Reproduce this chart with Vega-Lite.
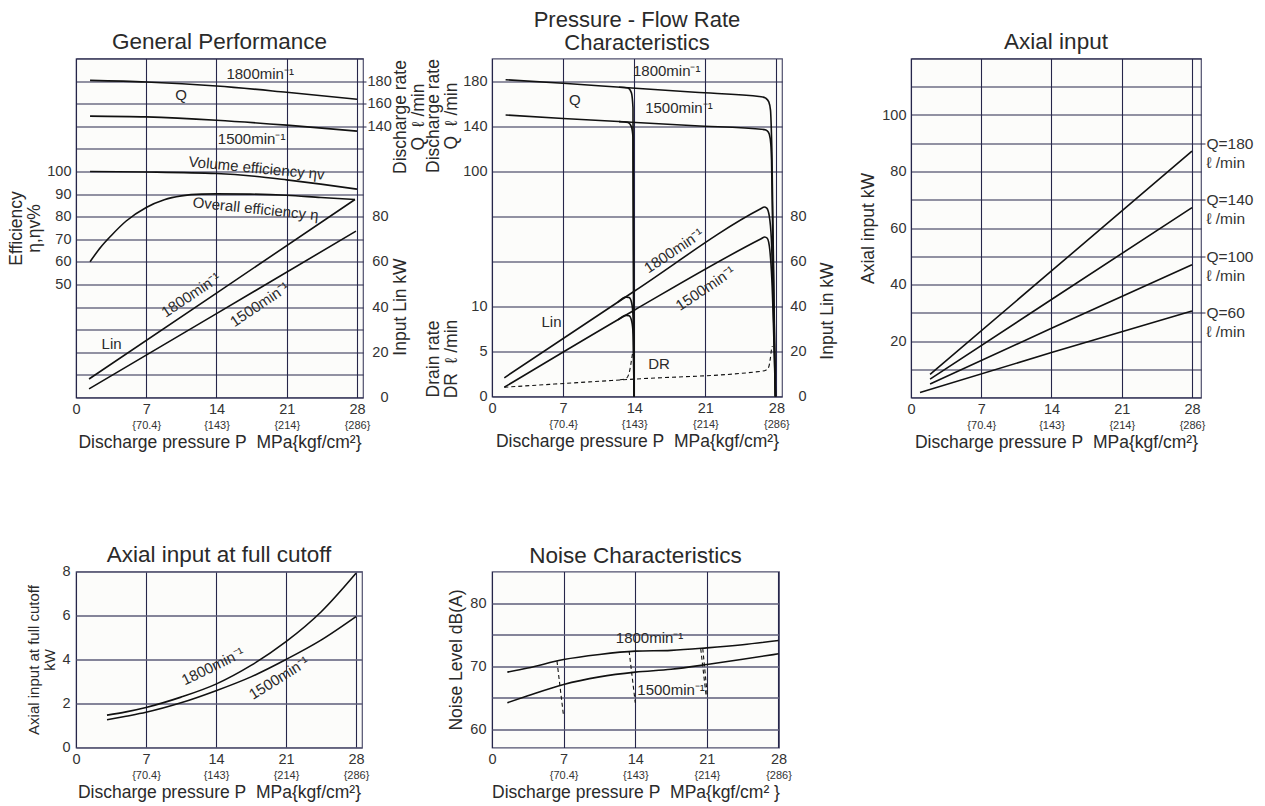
{
  "$schema": "https://vega.github.io/schema/vega-lite/v6.json",
  "background": "white",
  "padding": {"left": 7, "top": 8.5, "right": 5, "bottom": 5},
  "columns": 3,
  "spacing": {"row": 174, "column": 129},
  "bounds": "flush",
  "config": {
    "font": "Liberation Sans",
    "view": {"stroke": "#50506e", "strokeWidth": 1.2, "fill": "#fcfcfa"},
    "title": {"fontSize": 22.5, "fontWeight": "normal", "color": "#2a2a2a", "frame": "group", "offset": 6, "dy": 8.5, "lineHeight": 22},
    "axis": {"labelFontSize": 14.5, "labelColor": "#333333", "titleFontSize": 17.5, "titleFontWeight": "normal", "titleColor": "#2a2a2a", "domain": false, "ticks": false, "grid": false, "gridColor": "#26264a", "gridWidth": 1.1, "gridOpacity": 1, "tickColor": "#26264a", "labelPadding": 5, "titlePadding": 3, "titleLineHeight": 18, "labelFlush": false, "labelOverlap": false, "labelBound": false},
    "line": {"color": "#111111", "strokeWidth": 1.6},
    "text": {"fontSize": 15, "color": "#2a2a2a"}
  },
  "concat": [
    {
      "title": {"text": "General Performance"},
      "width": 287, "height": 339,
      "resolve": {"scale": {"x": "independent", "y": "independent"}},
      "layer": [
        {
          "data": {"values": [
            {"s":"vol","p":1.4,"v":100},{"s":"vol","p":7,"v":99.8},{"s":"vol","p":14,"v":99.1},{"s":"vol","p":17.8,"v":97.9},{"s":"vol","p":21,"v":96.3},{"s":"vol","p":24.4,"v":94.4},{"s":"vol","p":28,"v":92.2},
            {"s":"ovr","p":1.4,"v":60.1},{"s":"ovr","p":2.5,"v":66.7},{"s":"ovr","p":3.5,"v":71.6},{"s":"ovr","p":5,"v":78.1},{"s":"ovr","p":7,"v":84.1},{"s":"ovr","p":8.8,"v":87.5},{"s":"ovr","p":10.5,"v":89.2},{"s":"ovr","p":12.5,"v":90},{"s":"ovr","p":14,"v":90.1},{"s":"ovr","p":17.4,"v":90},{"s":"ovr","p":21,"v":89.5},{"s":"ovr","p":24.4,"v":88.5},{"s":"ovr","p":27.8,"v":87.6}
          ]},
          "encoding": {
            "x": {"field": "p", "type": "quantitative", "scale": {"domain": [0, 28.6], "nice": false}, "axis": {"orient": "bottom", "values": [0, 7, 14, 21, 28], "grid": true, "title": null, "labelPadding": 5}},
            "y": {"field": "v", "type": "quantitative", "scale": {"domain": [0, 150], "nice": false}, "axis": {"orient": "left", "values": [0,10,20,30,40,50,60,70,80,90,100,110,120,130,140,150], "labelExpr": "datum.value >= 50 && datum.value <= 100 ? datum.label : ''", "grid": true, "title": ["Efficiency", "η,ηv%"], "titlePadding": 3}}
          },
          "layer": [
            {"mark": {"type": "line", "interpolate": "monotone"}, "encoding": {"detail": {"field": "s"}}},
            {"data": {"values": [{"t": "Volume efficiency ηv", "p": 18, "v": 101.5}]}, "mark": {"type": "text", "angle": 5.5}, "encoding": {"text": {"field": "t"}}},
            {"data": {"values": [{"t": "Overall efficiency η", "p": 17.9, "v": 83.5}]}, "mark": {"type": "text", "angle": 6}, "encoding": {"text": {"field": "t"}}}
          ]
        },
        {
          "data": {"values": [
            {"s":"q1800","p":1.4,"v":180.6},{"s":"q1800","p":7,"v":179.2},{"s":"q1800","p":14,"v":175.7},{"s":"q1800","p":21,"v":170.1},{"s":"q1800","p":28,"v":163.9},
            {"s":"q1500","p":1.4,"v":149},{"s":"q1500","p":7,"v":148.3},{"s":"q1500","p":14,"v":145.4},{"s":"q1500","p":21,"v":141},{"s":"q1500","p":28,"v":135.7}
          ]},
          "encoding": {
            "x": {"field": "p", "type": "quantitative", "scale": {"domain": [0, 28.6], "nice": false}, "axis": null},
            "y": {"field": "v", "type": "quantitative", "scale": {"domain": [-100, 200], "nice": false}, "axis": {"orient": "right", "values": [140, 160, 180], "ticks": true, "tickSize": 3, "labelPadding": 1, "title": ["Discharge rate", "Q\u00a0 ℓ /min"], "titleAngle": 270, "titleBaseline": "top", "titleX": 28, "titleY": 58}}
          },
          "layer": [
            {"mark": {"type": "line", "interpolate": "monotone"}, "encoding": {"detail": {"field": "s"}}},
            {"data": {"values": [{"t": "1800min⁻¹", "p": 18.35, "v": 185.9}, {"t": "Q", "p": 10.46, "v": 167.6}, {"t": "1500min⁻¹", "p": 17.5, "v": 128.6}]}, "mark": {"type": "text"}, "encoding": {"text": {"field": "t"}}}
          ]
        },
        {
          "data": {"values": [
            {"s":"l1800","p":1.3,"v":8.2},{"s":"l1800","p":14,"v":46.2},{"s":"l1800","p":27.8,"v":87.6},
            {"s":"l1500","p":1.3,"v":3.8},{"s":"l1500","p":14,"v":37.1},{"s":"l1500","p":27.9,"v":73.6}
          ]},
          "encoding": {
            "x": {"field": "p", "type": "quantitative", "scale": {"domain": [0, 28.6], "nice": false}, "axis": {"orient": "bottom", "values": [7, 14, 21, 28], "labelExpr": "datum.value == 7 ? '{70.4}' : datum.value == 14 ? '{143}' : datum.value == 21 ? '{214}' : '{286}'", "labelFontSize": 11, "labelPadding": 22, "title": "Discharge pressure P\u00a0 MPa{kgf/cm²}", "titlePadding": 3, "grid": false}},
            "y": {"field": "v", "type": "quantitative", "scale": {"domain": [0, 150], "nice": false}, "axis": {"orient": "right", "values": [0, 20, 40, 60, 80], "labelAlign": "right", "labelPadding": 25, "title": "Input Lin kW", "titleAngle": 270, "titleBaseline": "top", "titleY": 248, "titlePadding": 3}}
          },
          "layer": [
            {"mark": {"type": "line"}, "encoding": {"detail": {"field": "s"}}},
            {"data": {"values": [{"t": "1800min⁻¹", "p": 11.45, "v": 45.4}, {"t": "1500min⁻¹", "p": 18.3, "v": 41.2}]}, "mark": {"type": "text", "angle": -34}, "encoding": {"text": {"field": "t"}}},
            {"data": {"values": [{"t": "Lin", "p": 3.55, "v": 23.6}]}, "mark": {"type": "text"}, "encoding": {"text": {"field": "t"}}}
          ]
        }
      ]
    },
    {
      "title": {"text": ["Pressure - Flow Rate", "Characteristics"], "fontSize": 22, "lineHeight": 22.5, "dy": 2.2},
      "width": 290, "height": 338,
      "resolve": {"scale": {"x": "independent", "y": "independent"}},
      "layer": [
        {
          "data": {"values": [
            {"s":"l1800","p":1.21,"v":8.3},{"s":"l1800","p":14,"v":46.7},{"s":"l1800","p":26.5,"v":83.4},{"s":"l1800","p":26.8,"v":84.1},{"s":"l1800","p":27.05,"v":83.6},{"s":"l1800","p":27.3,"v":80},{"s":"l1800","p":27.5,"v":70},{"s":"l1800","p":27.9,"v":0},
            {"s":"l1800c","p":12.4,"v":41.9},{"s":"l1800c","p":13.2,"v":44.1},{"s":"l1800c","p":13.5,"v":43.9},{"s":"l1800c","p":13.75,"v":41.5},{"s":"l1800c","p":13.9,"v":35},{"s":"l1800c","p":13.98,"v":0},
            {"s":"l1500","p":1.21,"v":4.1},{"s":"l1500","p":14,"v":38.3},{"s":"l1500","p":26.5,"v":70},{"s":"l1500","p":26.85,"v":70.8},{"s":"l1500","p":27.1,"v":70.2},{"s":"l1500","p":27.35,"v":65},{"s":"l1500","p":27.55,"v":52},{"s":"l1500","p":27.9,"v":0},
            {"s":"l1500c","p":12.4,"v":34},{"s":"l1500c","p":13.2,"v":36},{"s":"l1500c","p":13.5,"v":35.8},{"s":"l1500c","p":13.75,"v":33.5},{"s":"l1500c","p":13.9,"v":27.5},{"s":"l1500c","p":13.98,"v":0}
          ]},
          "encoding": {
            "x": {"field": "p", "type": "quantitative", "scale": {"domain": [0, 28.55], "nice": false}, "axis": {"orient": "bottom", "values": [0, 7, 14, 21, 28], "grid": true, "title": null, "labelPadding": 5}},
            "y": {"field": "v", "type": "quantitative", "scale": {"domain": [0, 150], "nice": false}, "axis": {"orient": "right", "values": [0, 20, 40, 60, 80, 100, 120, 140], "labelExpr": "datum.value <= 80 ? datum.label : ''", "grid": true, "labelAlign": "right", "labelPadding": 24, "title": "Input Lin kW", "titleAngle": 270, "titleBaseline": "top", "titleY": 252, "titlePadding": 12}}
          },
          "layer": [
            {"mark": {"type": "line", "interpolate": "monotone"}, "encoding": {"detail": {"field": "s"}}},
            {"data": {"values": [{"t": "1800min⁻¹", "p": 17.9, "v": 64.7}, {"t": "1500min⁻¹", "p": 21, "v": 48}]}, "mark": {"type": "text", "angle": -34}, "encoding": {"text": {"field": "t"}}},
            {"data": {"values": [{"t": "Lin", "p": 5.86, "v": 32.9}]}, "mark": {"type": "text"}, "encoding": {"text": {"field": "t"}}}
          ]
        },
        {
          "data": {"values": [
            {"s":"q1800","p":1.34,"v":181.2},{"s":"q1800","p":7,"v":178},{"s":"q1800","p":13.4,"v":174},{"s":"q1800","p":20,"v":170},{"s":"q1800","p":26.5,"v":166.1},{"s":"q1800","p":26.95,"v":164.8},{"s":"q1800","p":27.25,"v":161.5},{"s":"q1800","p":27.42,"v":154},{"s":"q1800","p":27.55,"v":120},{"s":"q1800","p":27.9,"v":-100},
            {"s":"q1800c","p":12.5,"v":174.5},{"s":"q1800c","p":13.39,"v":173.8},{"s":"q1800c","p":13.72,"v":169.7},{"s":"q1800c","p":13.88,"v":156.4},{"s":"q1800c","p":13.98,"v":-100},
            {"s":"q1500","p":1.34,"v":149.9},{"s":"q1500","p":7,"v":146.8},{"s":"q1500","p":13.4,"v":143.6},{"s":"q1500","p":20,"v":140.3},{"s":"q1500","p":26.8,"v":136.9},{"s":"q1500","p":27.1,"v":135.8},{"s":"q1500","p":27.3,"v":132.7},{"s":"q1500","p":27.45,"v":124},{"s":"q1500","p":27.52,"v":110},{"s":"q1500","p":27.9,"v":-100},
            {"s":"q1500c","p":12.5,"v":144},{"s":"q1500c","p":13.39,"v":143.2},{"s":"q1500c","p":13.72,"v":139.5},{"s":"q1500c","p":13.88,"v":130},{"s":"q1500c","p":13.98,"v":-100}
          ]},
          "encoding": {
            "x": {"field": "p", "type": "quantitative", "scale": {"domain": [0, 28.55], "nice": false}, "axis": {"orient": "bottom", "values": [7, 14, 21, 28], "labelExpr": "datum.value == 7 ? '{70.4}' : datum.value == 14 ? '{143}' : datum.value == 21 ? '{214}' : '{286}'", "labelFontSize": 11, "labelPadding": 22, "title": "Discharge pressure P\u00a0 MPa{kgf/cm²}", "titlePadding": 3, "grid": false}},
            "y": {"field": "v", "type": "quantitative", "scale": {"domain": [-100, 200], "nice": false}, "axis": {"orient": "left", "values": [100, 140, 180], "title": ["Discharge rate", "Q\u00a0 ℓ /min"], "titleY": 57, "titlePadding": 2}}
          },
          "layer": [
            {"mark": {"type": "line", "interpolate": "monotone"}, "encoding": {"detail": {"field": "s"}}},
            {"data": {"values": [{"t": "1800min⁻¹", "p": 17.2, "v": 188.9}, {"t": "Q", "p": 8.15, "v": 162.9}, {"t": "1500min⁻¹", "p": 18.4, "v": 156.4}]}, "mark": {"type": "text"}, "encoding": {"text": {"field": "t"}}}
          ]
        },
        {
          "data": {"values": [
            {"s":"dr","p":1.21,"v":1.03},{"s":"dr","p":14,"v":1.93},{"s":"dr","p":26.5,"v":2.8},{"s":"dr","p":27,"v":2.95},{"s":"dr","p":27.25,"v":3.3},{"s":"dr","p":27.4,"v":4.2},{"s":"dr","p":27.5,"v":5.1},{"s":"dr","p":27.6,"v":5.6},
            {"s":"drc","p":12.6,"v":1.85},{"s":"drc","p":13.2,"v":2},{"s":"drc","p":13.5,"v":2.6},{"s":"drc","p":13.7,"v":3.8},{"s":"drc","p":13.85,"v":4.9}
          ]},
          "encoding": {
            "x": {"field": "p", "type": "quantitative", "scale": {"domain": [0, 28.55], "nice": false}, "axis": null},
            "y": {"field": "v", "type": "quantitative", "scale": {"domain": [0, 37.5], "nice": false}, "axis": {"orient": "left", "values": [0, 5, 10], "title": ["Drain rate", "DR\u00a0 ℓ /min"], "titleY": 300, "titlePadding": 10}}
          },
          "layer": [
            {"mark": {"type": "line", "interpolate": "monotone", "strokeDash": [4, 3], "strokeWidth": 1.1}, "encoding": {"detail": {"field": "s"}}},
            {"data": {"values": [{"t": "DR", "p": 16.44, "v": 3.62}]}, "mark": {"type": "text"}, "encoding": {"text": {"field": "t"}}}
          ]
        }
      ]
    },
    {
      "title": {"text": "Axial input"},
      "width": 290, "height": 339,
      "resolve": {"scale": {"x": "independent", "y": "independent"}},
      "data": {"values": [
        {"s":"q180","p":1.9,"v":8.2},{"s":"q180","p":14,"v":44.8},{"s":"q180","p":28,"v":87.2},
        {"s":"q140","p":1.9,"v":6.5},{"s":"q140","p":14,"v":34.7},{"s":"q140","p":28,"v":67.2},
        {"s":"q100","p":1.9,"v":4.8},{"s":"q100","p":14,"v":24.5},{"s":"q100","p":28,"v":47},
        {"s":"q60","p":0.9,"v":1.8},{"s":"q60","p":14,"v":15.9},{"s":"q60","p":28,"v":30.6}
      ]},
      "layer": [
        {
          "mark": {"type": "line"},
          "encoding": {
            "x": {"field": "p", "type": "quantitative", "scale": {"domain": [0, 28.9], "nice": false}, "axis": {"orient": "bottom", "values": [0, 7, 14, 21, 28], "grid": true, "title": null, "labelPadding": 5}},
            "y": {"field": "v", "type": "quantitative", "scale": {"domain": [0, 120], "nice": false}, "axis": {"orient": "left", "values": [0,10,20,30,40,50,60,70,80,90,100,110,120], "labelExpr": "datum.value >= 20 && datum.value <= 100 && datum.value % 20 == 0 ? datum.label : ''", "grid": true, "title": "Axial input kW", "titlePadding": 4}},
            "detail": {"field": "s"}
          }
        },
        {
          "mark": {"type": "point", "opacity": 0},
          "encoding": {
            "x": {"field": "p", "type": "quantitative", "scale": {"domain": [0, 28.9], "nice": false}, "axis": {"orient": "bottom", "values": [7, 14, 21, 28], "labelExpr": "datum.value == 7 ? '{70.4}' : datum.value == 14 ? '{143}' : datum.value == 21 ? '{214}' : '{286}'", "labelFontSize": 11, "labelPadding": 22, "title": "Discharge pressure P\u00a0 MPa{kgf/cm²}", "titlePadding": 3, "grid": false}},
            "y": {"field": "v", "type": "quantitative", "scale": {"domain": [0, 120], "nice": false}, "axis": {"orient": "right", "values": [30, 50, 70, 90], "labelExpr": "datum.value == 90 ? ['Q=180', '\u00a0ℓ /min'] : datum.value == 70 ? ['Q=140', '\u00a0ℓ /min'] : datum.value == 50 ? ['Q=100', '\u00a0ℓ /min'] : ['Q=60', '\u00a0ℓ /min']", "labelFontSize": 15.5, "labelLineHeight": 19, "labelBaseline": "top", "labelOffset": -7, "labelAlign": "left", "ticks": true, "tickSize": 4, "labelPadding": 1, "title": null}}
          }
        }
      ]
    },
    {
      "title": {"text": "Axial input at full cutoff"},
      "width": 286, "height": 176,
      "resolve": {"scale": {"x": "independent", "y": "independent"}},
      "layer": [
        {
          "data": {"values": [
            {"s":"c1800","p":3.1,"v":1.47},{"s":"c1800","p":5,"v":1.62},{"s":"c1800","p":7,"v":1.82},{"s":"c1800","p":10.5,"v":2.29},{"s":"c1800","p":14,"v":2.88},{"s":"c1800","p":17.5,"v":3.73},{"s":"c1800","p":21,"v":4.81},{"s":"c1800","p":24.5,"v":6.16},{"s":"c1800","p":28,"v":7.92},
            {"s":"c1500","p":3.1,"v":1.26},{"s":"c1500","p":5,"v":1.42},{"s":"c1500","p":7,"v":1.6},{"s":"c1500","p":10.5,"v":2.03},{"s":"c1500","p":14,"v":2.58},{"s":"c1500","p":17.5,"v":3.21},{"s":"c1500","p":21,"v":4},{"s":"c1500","p":24.5,"v":4.88},{"s":"c1500","p":28,"v":5.95}
          ]},
          "mark": {"type": "line", "interpolate": "monotone"},
          "encoding": {
            "x": {"field": "p", "type": "quantitative", "scale": {"domain": [0, 28.6], "nice": false}, "axis": {"orient": "bottom", "values": [0, 7, 14, 21, 28], "grid": true, "title": null, "labelPadding": 5}},
            "y": {"field": "v", "type": "quantitative", "scale": {"domain": [0, 8], "nice": false}, "axis": {"orient": "left", "values": [0, 2, 4, 6, 8], "grid": true, "gridColor": "#5c5c78", "gridWidth": 1.5, "labelPadding": 6, "title": ["Axial input at full cutoff", "kW"], "titleFontSize": 15, "titleLineHeight": 16, "titlePadding": 4}},
            "detail": {"field": "s"}
          }
        },
        {
          "encoding": {
            "x": {"field": "p", "type": "quantitative", "scale": {"domain": [0, 28.6], "nice": false}, "axis": {"orient": "bottom", "values": [7, 14, 21, 28], "labelExpr": "datum.value == 7 ? '{70.4}' : datum.value == 14 ? '{143}' : datum.value == 21 ? '{214}' : '{286}'", "labelFontSize": 11, "labelPadding": 22, "title": "Discharge pressure P\u00a0 MPa{kgf/cm²}", "titlePadding": 3, "grid": false}},
            "y": {"field": "v", "type": "quantitative", "scale": {"domain": [0, 8], "nice": false}, "axis": null},
            "text": {"field": "t"}
          },
          "layer": [
            {"data": {"values": [{"t": "1800min⁻¹", "p": 13.7, "v": 3.69}]}, "mark": {"type": "text", "angle": -26}},
            {"data": {"values": [{"t": "1500min⁻¹", "p": 20.3, "v": 3.16}]}, "mark": {"type": "text", "angle": -32}}
          ]
        }
      ]
    },
    {
      "title": {"text": "Noise Characteristics", "dy": 1.5},
      "width": 287, "height": 176,
      "resolve": {"scale": {"x": "independent", "y": "independent"}},
      "layer": [
        {
          "encoding": {
            "x": {"field": "p", "type": "quantitative", "scale": {"domain": [0, 28.05], "nice": false}, "axis": {"orient": "bottom", "values": [0, 7, 14, 21, 28], "grid": true, "title": null, "labelPadding": 5}},
            "y": {"field": "v", "type": "quantitative", "scale": {"domain": [57.1, 85], "nice": false}, "axis": {"orient": "left", "values": [60, 65, 70, 75, 80], "labelExpr": "datum.value % 10 == 0 ? datum.label : ''", "grid": true, "gridColor": "#5c5c78", "gridWidth": 1.5, "labelPadding": 6, "title": "Noise Level dB(A)", "titlePadding": 4}},
            "detail": {"field": "s"}
          },
          "layer": [
            {
              "data": {"values": [
                {"s":"n1800","p":1.5,"v":69.05},{"s":"n1800","p":3.5,"v":69.7},{"s":"n1800","p":7,"v":71.05},{"s":"n1800","p":10.5,"v":71.85},{"s":"n1800","p":14,"v":72.37},{"s":"n1800","p":17.5,"v":72.5},{"s":"n1800","p":21,"v":72.9},{"s":"n1800","p":24.5,"v":73.4},{"s":"n1800","p":28,"v":74.05},
                {"s":"n1500","p":1.5,"v":64.2},{"s":"n1500","p":3.5,"v":65.3},{"s":"n1500","p":7,"v":67.1},{"s":"n1500","p":10.5,"v":68.3},{"s":"n1500","p":14,"v":69.05},{"s":"n1500","p":17.5,"v":69.5},{"s":"n1500","p":21,"v":70.25},{"s":"n1500","p":24.5,"v":71.1},{"s":"n1500","p":28,"v":71.95}
              ]},
              "mark": {"type": "line", "interpolate": "monotone"}
            },
            {
              "data": {"values": [
                {"s":"d7","p":6.35,"v":70.8},{"s":"d7","p":7,"v":62},
                {"s":"d14","p":13.4,"v":72.4},{"s":"d14","p":14,"v":64.2},
                {"s":"d21a","p":20.4,"v":72.75},{"s":"d21a","p":20.95,"v":65},
                {"s":"d21b","p":20.6,"v":72.8},{"s":"d21b","p":21.05,"v":65.2}
              ]},
              "mark": {"type": "line", "strokeDash": [4, 3], "strokeWidth": 1.1}
            }
          ]
        },
        {
          "data": {"values": [{"t": "1800min⁻¹", "p": 15.4, "v": 74.5}, {"t": "1500min⁻¹", "p": 17.5, "v": 66.2}]},
          "mark": {"type": "text"},
          "encoding": {
            "x": {"field": "p", "type": "quantitative", "scale": {"domain": [0, 28.05], "nice": false}, "axis": {"orient": "bottom", "values": [7, 14, 21, 28], "labelExpr": "datum.value == 7 ? '{70.4}' : datum.value == 14 ? '{143}' : datum.value == 21 ? '{214}' : '{286}'", "labelFontSize": 11, "labelPadding": 22, "title": "Discharge pressure P\u00a0 MPa{kgf/cm²\u00a0}", "titlePadding": 3, "grid": false}},
            "y": {"field": "v", "type": "quantitative", "scale": {"domain": [57.1, 85], "nice": false}, "axis": null},
            "text": {"field": "t"}
          }
        }
      ]
    }
  ]
}
